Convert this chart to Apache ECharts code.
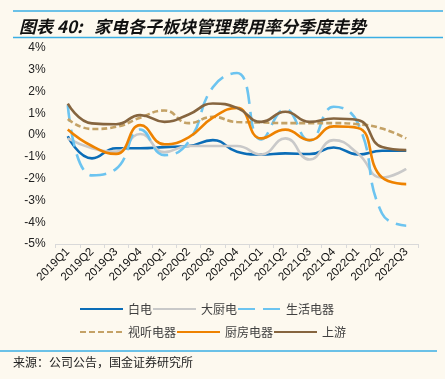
<!DOCTYPE html>
<html><head><meta charset="utf-8">
<script src="https://cdn.jsdelivr.net/npm/echarts@6/dist/echarts.min.js"></script>
<style>html,body{margin:0;padding:0;background:#FDF9EF;}#c{width:445px;height:379px;}</style>
</head><body><div id="c"></div>
<script>
var categories = ['2019Q1','2019Q2','2019Q3','2019Q4','2020Q1','2020Q2','2020Q3','2020Q4','2021Q1','2021Q2','2021Q3','2021Q4','2022Q1','2022Q2','2022Q3'];
var baidian   = [-0.05, -1.07, -0.6, -0.6, -0.55, -0.5, -0.23, -0.76, -0.89, -0.84, -0.87, -0.57, -0.89, -0.72, -0.72];
var dachudian = [-0.15, -0.6, -0.76, 0.05, -0.78, -0.5, -0.5, -0.5, -0.89, -0.15, -1.12, -0.23, -0.84, -1.95, -1.55];
var shenghuo  = [1.38, -1.85, -1.55, 0.26, -0.92, -0.3, 2.2, 2.85, -0.2, 1.18, -0.25, 1.3, 0.55, -3.6, -4.16];
var shiting   = [0.74, 0.28, 0.38, 0.8, 1.13, 0.55, 0.84, 0.6, 0.58, 0.55, 0.55, 0.55, 0.5, 0.3, -0.15];
var chufang   = [0.26, -0.5, -0.86, 0.46, -0.42, -0.1, 0.8, 1.25, -0.15, 0.25, -0.23, 0.4, 0.33, -1.95, -2.25];
var shangyou  = [1.45, 0.54, 0.5, 0.92, 0.61, 0.95, 1.45, 1.25, 0.61, 1.07, 0.61, 0.76, 0.69, -0.55, -0.69];
var yTicks = [-5, -4, -3, -2, -1, 0, 1, 2, 3, 4];

var chart = echarts.init(document.getElementById('c'), null, {renderer: 'canvas'});
function ser(name, data, color, dash) {
  return {
    name: name, type: 'line', data: data, smooth: 0.5, symbol: 'none', showSymbol: false,
    lineStyle: {color: color, width: 2.6, type: dash || 'solid'},
    itemStyle: {color: color}
  };
}
var legendText = {fontSize: 12, color: '#404040', width: 52, fontFamily: 'Noto Sans CJK SC'};
var legendCommon = {left: 74, itemWidth: 43, itemHeight: 14, itemGap: 0, textStyle: legendText, itemStyle: {opacity: 0}};
chart.setOption({
  backgroundColor: '#FDF9EF',
  animation: false,
  title: {
    text: '图表 40:   家电各子板块管理费用率分季度走势',
    left: 14, top: 13,
    textStyle: {fontSize: 17, fontWeight: 'bold', fontStyle: 'italic', color: '#111', fontFamily: 'Noto Sans CJK SC'}
  },
  graphic: [
    {type: 'line', shape: {x1: 13, y1: 11, x2: 443, y2: 11}, style: {stroke: '#3AAEE4', lineWidth: 1.5}},
    {type: 'line', shape: {x1: 13, y1: 37.5, x2: 443, y2: 37.5}, style: {stroke: '#3AAEE4', lineWidth: 1.5}},
    {type: 'line', shape: {x1: 0, y1: 351, x2: 437, y2: 351}, style: {stroke: '#3AAEE4', lineWidth: 1.5}},
    {type: 'text', left: 13, top: 356, style: {text: '来源：公司公告，国金证券研究所', fontSize: 12, fill: '#222', fontFamily: 'Noto Sans CJK SC'}}
  ],
  legend: [
    Object.assign({data: ['白电', '大厨电', '生活电器'], top: 298}, legendCommon),
    Object.assign({data: ['视听电器', '厨房电器', '上游'], top: 321}, legendCommon)
  ],
  grid: {left: 55.7, right: 26.7, top: 48, bottom: 135, containLabel: false},
  xAxis: {
    type: 'category', data: categories, boundaryGap: true,
    axisLine: {onZero: false, lineStyle: {color: '#D9D9D9', width: 1}},
    axisTick: {show: true, length: 4, lineStyle: {color: '#D9D9D9'}},
    axisLabel: {rotate: 45, fontSize: 11.5, color: '#111', margin: 6, interval: 0, fontFamily: 'Liberation Sans'}
  },
  yAxis: {
    type: 'value', min: yTicks[0], max: yTicks[yTicks.length - 1], interval: 1,
    axisLine: {show: false}, axisTick: {show: false}, splitLine: {show: false},
    axisLabel: {fontSize: 12, color: '#222', margin: 10, padding: [5, 0, 0, 0], fontFamily: 'Liberation Sans', formatter: function (v) { return v + '%'; }}
  },
  series: [
    ser('白电', baidian, '#0B6DB7'),
    ser('大厨电', dachudian, '#C9C9C9'),
    ser('生活电器', shenghuo, '#6CC4F0', [17, 8]),
    ser('视听电器', shiting, '#C4A266', [6, 3]),
    ser('厨房电器', chufang, '#EE8200'),
    ser('上游', shangyou, '#86653F')
  ]
});
</script></body></html>
